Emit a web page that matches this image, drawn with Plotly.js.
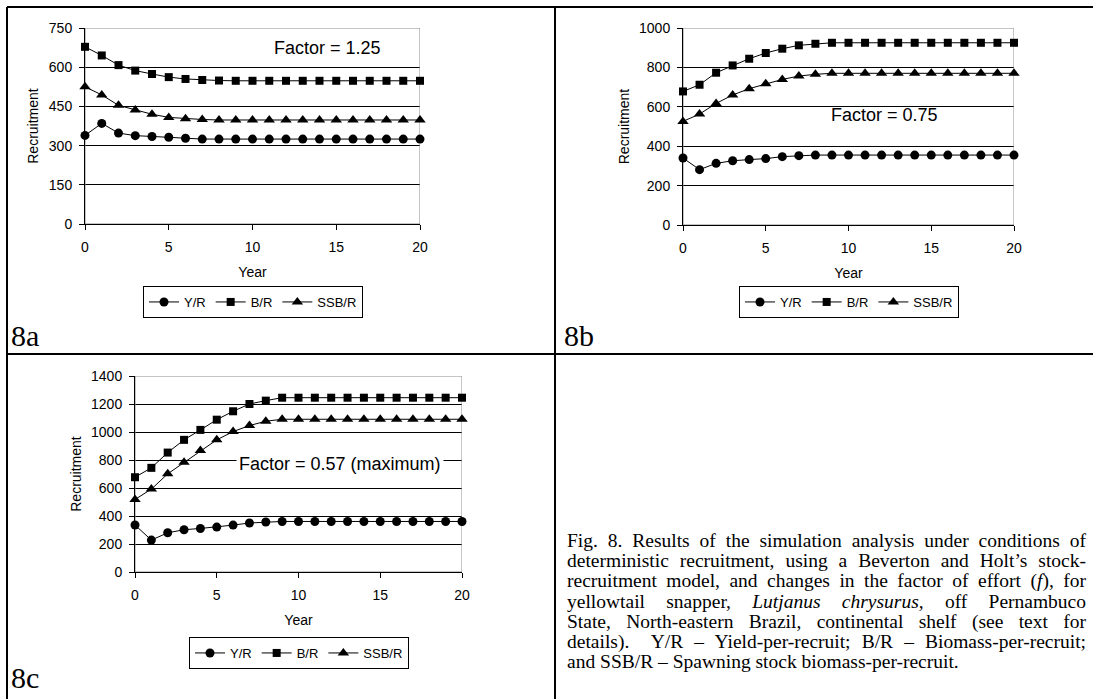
<!DOCTYPE html>
<html>
<head>
<meta charset="utf-8">
<script src="https://cdn.plot.ly/plotly-3.0.1.min.js"></script>
<style>
  html, body { margin: 0; padding: 0; background: #fff; }
  #wrap { position: relative; width: 1093px; height: 699px; overflow: hidden; }
  #chart { position: absolute; left: 0; top: 0; width: 1093px; height: 699px; }
  #caption { position: absolute; left: 567px; top: 531px; width: 519px;
    font-family: "Liberation Serif", "Times New Roman", serif; font-size: 19.5px; line-height: 20.2px; color: #000; }
  #caption div { text-align: justify; text-align-last: justify; white-space: nowrap; }
  #caption div.last { text-align-last: left; }
</style>
</head>
<body>
<div id="wrap">
<div id="chart"></div>
<div id="caption">
<div>Fig. 8. Results of the simulation analysis under conditions of</div>
<div>deterministic recruitment, using a Beverton and Holt’s stock-</div>
<div>recruitment model, and changes in the factor of effort (<i>f</i>), for</div>
<div>yellowtail snapper, <i>Lutjanus chrysurus,</i> off Pernambuco</div>
<div>State, North-eastern Brazil, continental shelf (see text for</div>
<div>details).&nbsp; Y/R – Yield-per-recruit; B/R – Biomass-per-recruit;</div>
<div class="last">and SSB/R – Spawning stock biomass-per-recruit.</div>
</div>
</div>
<script>
// ---- data ----
const years = [0,1,2,3,4,5,6,7,8,9,10,11,12,13,14,15,16,17,18,19,20];
const seriesNames = ["Y/R", "B/R", "SSB/R"];

// Panel 8a (Factor = 1.25)
const a_YR  = [339,385,348,338,335,332,328,325,325,325,325,325,325,325,325,325,325,325,325,325,325];
const a_BR  = [678,645,608,587,574,562,555,551,549,548,548,548,548,548,548,548,548,548,548,548,548];
const a_SSB = [525,494,454,436,420,408,403,400,398,398,398,398,398,398,398,398,398,398,398,398,398];

// Panel 8b (Factor = 0.75)
const b_YR  = [340,281,313,326,332,337,347,352,355,355,355,355,355,355,355,355,355,355,355,355,355];
const b_BR  = [678,712,773,810,844,873,895,912,920,925,925,925,925,925,925,925,925,925,925,925,925];
const b_SSB = [526,563,617,660,692,717,739,756,765,770,770,770,770,770,770,770,770,770,770,770,770];

// Panel 8c (Factor = 0.57, maximum)
const c_YR  = [336,228,280,302,311,321,335,350,357,361,361,361,361,361,361,361,361,361,361,361,361];
const c_BR  = [677,744,853,944,1015,1088,1148,1200,1224,1245,1245,1245,1245,1245,1245,1245,1245,1245,1245,1245,1245];
const c_SSB = [518,592,701,784,867,944,1003,1046,1077,1091,1091,1091,1091,1091,1091,1091,1091,1091,1091,1091,1091];

const panelLabels = ["8a", "8b", "8c"];
const factorLabels = ["Factor = 1.25", "Factor = 0.75", "Factor = 0.57 (maximum)"];
const yTicksA = [0,150,300,450,600,750];
const yTicksB = [0,200,400,600,800,1000];
const yTicksC = [0,200,400,600,800,1000,1200,1400];
const xTicks = [0,5,10,15,20];

// ---- layout helpers ----
const W = 1093, H = 699;
const px = v => v / W;
const py = v => 1 - v / H;
const SANS = "Liberation Sans, Arial, sans-serif";
const SERIF = "Liberation Serif, Times New Roman, serif";

const symbols = ["circle", "square", "triangle-up"];
const sizes = [9, 8, 10];

function mkTraces(vals, xa, ya, leg) {
  return vals.map((v, i) => ({
    x: years, y: v, name: seriesNames[i], type: "scatter", mode: "lines+markers",
    xaxis: xa, yaxis: ya, legend: leg, cliponaxis: false,
    line: {color: "#000", width: 1},
    marker: {symbol: symbols[i], size: sizes[i], color: "#000"}
  }));
}

const data = [
  ...mkTraces([a_YR, a_BR, a_SSB], "x", "y", "legend"),
  ...mkTraces([b_YR, b_BR, b_SSB], "x2", "y2", "legend2"),
  ...mkTraces([c_YR, c_BR, c_SSB], "x3", "y3", "legend3")
];

function xAx(dom, anchor) {
  return {
    domain: dom, anchor: anchor, range: [0, 20], tickvals: xTicks,
    showgrid: false, zeroline: false, showline: true, linecolor: "#000", linewidth: 1,
    ticks: "outside", ticklen: 5, tickcolor: "#000", ticklabelstandoff: 5,
    tickfont: {family: SANS, size: 14, color: "#000"},
    title: {text: "Year", font: {family: SANS, size: 14, color: "#000"}, standoff: 13},
    automargin: false
  };
}
function yAx(dom, anchor, range, tv) {
  return {
    domain: dom, anchor: anchor, range: range, tickvals: tv,
    showgrid: true, gridcolor: "#000", gridwidth: 1,
    zeroline: false, showline: true, linecolor: "#000", linewidth: 1,
    ticks: "outside", ticklen: 5, tickcolor: "#000", ticklabelstandoff: 4,
    tickfont: {family: SANS, size: 14, color: "#000"},
    title: {text: "Recruitment", font: {family: SANS, size: 14, color: "#000"}, standoff: 6},
    automargin: false
  };
}

function legendAt(cx, top) {
  return {
    x: px(cx), y: py(top), xanchor: "center", yanchor: "top", orientation: "h",
    bgcolor: "#fff", bordercolor: "#000", borderwidth: 1,
    font: {family: SANS, size: 13, color: "#000"}, itemwidth: 30, tracegroupgap: 0
  };
}

function border(xa, ya, xmax, ymax) {
  return {type: "rect", xref: xa, yref: ya, x0: 0, x1: xmax, y0: 0, y1: ymax,
          line: {color: "#8c8c8c", width: 1}, layer: "between"};
}
function pline(x0, y0, x1, y1) {
  return {type: "line", xref: "paper", yref: "paper", x0: px(x0), y0: py(y0), x1: px(x1), y1: py(y1),
          line: {color: "#000", width: 2}};
}
function note(text, x, y, font, anchor, bg) {
  const a = {text: text, xref: "paper", yref: "paper", x: px(x), y: py(y), xanchor: anchor || "center",
          yanchor: "middle", showarrow: false, font: font};
  if (bg) { a.bgcolor = bg; a.borderpad = 2; }
  return a;
}
const labFont = {family: SERIF, size: 30, color: "#000"};
const facFont = {family: SANS, size: 18, color: "#000"};

const layout = {
  width: W, height: H, margin: {l: 0, r: 0, t: 0, b: 0},
  paper_bgcolor: "#fff", plot_bgcolor: "rgba(0,0,0,0)",
  showlegend: true,
  xaxis:  xAx([px(85), px(420)], "y"),
  yaxis:  yAx([py(224), py(28)], "x", [0, 750], yTicksA),
  xaxis2: xAx([px(683), px(1014)], "y2"),
  yaxis2: yAx([py(225), py(28)], "x2", [0, 1000], yTicksB),
  xaxis3: xAx([px(135), px(462)], "y3"),
  yaxis3: yAx([py(572), py(376)], "x3", [0, 1400], yTicksC),
  legend:  legendAt(253, 286),
  legend2: legendAt(849, 286),
  legend3: legendAt(299, 637),
  shapes: [
    border("x", "y", 20, 750), border("x2", "y2", 20, 1000), border("x3", "y3", 20, 1400),
    pline(7, 7, 1093, 7), pline(7, 7, 7, 699), pline(555, 7, 555, 699), pline(7, 354, 1093, 354)
  ],
  annotations: [
    note(panelLabels[0], 9, 336, labFont, "left"),
    note(panelLabels[1], 562, 336, labFont, "left"),
    note(panelLabels[2], 9, 677, labFont, "left"),
    note(factorLabels[0], 327, 48, facFont),
    note(factorLabels[1], 884, 115, facFont),
    note(factorLabels[2], 340, 464, facFont, "center", "#fff")
  ]
};

Plotly.newPlot("chart", data, layout, {staticPlot: true, displayModeBar: false});
</script>
</body>
</html>
